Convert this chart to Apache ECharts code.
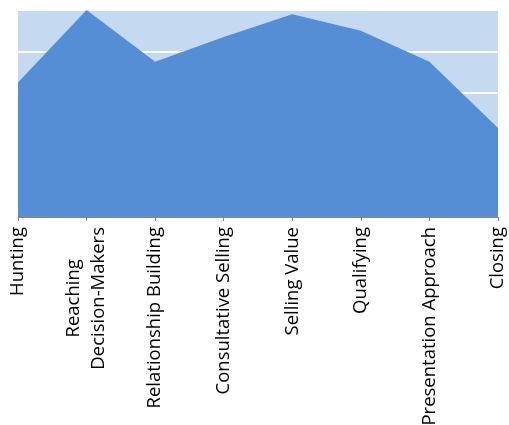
<!DOCTYPE html>
<html>
<head>
<meta charset="utf-8">
<script src="https://cdn.jsdelivr.net/npm/echarts@6/dist/echarts.min.js"></script>
<style>
  html, body { margin: 0; padding: 0; background: #fff; }
  #chart { width: 509px; height: 425px; }
</style>
</head>
<body>
<div id="chart"></div>
<script>
// skill stages and scores
var categories = ['Hunting', 'Reaching\nDecision-Makers', 'Relationship Building', 'Consultative Selling',
  'Selling Value', 'Qualifying', 'Presentation Approach', 'Closing'];
var scores = [3.25, 5.0, 3.75, 4.35, 4.9, 4.5, 3.75, 2.15];

var labelFont = { fontFamily: 'Open Sans', fontSize: 18.5, lineHeight: 25, color: '#000' };

var chart = echarts.init(document.getElementById('chart'));
chart.setOption({
  animation: false,
  grid: {
    left: 18, right: 11, top: 10, bottom: 208,
    outerBoundsMode: 'none',
    show: true,
    backgroundColor: '#c5d9f1',
    borderWidth: 0
  },
  xAxis: {
    type: 'category',
    data: categories,
    boundaryGap: false,
    axisLine: { lineStyle: { color: '#898989', width: 1 } },
    axisTick: { show: true, length: 4, alignWithLabel: true, lineStyle: { color: '#898989' } },
    axisLabel: Object.assign({
      interval: 0,
      rotate: 90,
      margin: 10,
      // centre the lines of a wrapped label on each other
      formatter: function (v) {
        return v.split('\n').map(function (s) { return '{c|' + s + '}'; }).join('\n');
      },
      rich: { c: Object.assign({ align: 'center' }, labelFont) }
    }, labelFont)
  },
  yAxis: {
    type: 'value',
    min: 0, max: 5, interval: 1,
    axisLabel: { show: false },
    axisLine: { show: false },
    axisTick: { show: false },
    splitLine: { lineStyle: { color: '#ffffff', width: 2 } }
  },
  series: [{
    type: 'line',
    data: scores,
    symbol: 'none',
    lineStyle: { width: 0 },
    areaStyle: { color: '#558ed5', opacity: 1 },
    z: 3
  }]
});
</script>
</body>
</html>
